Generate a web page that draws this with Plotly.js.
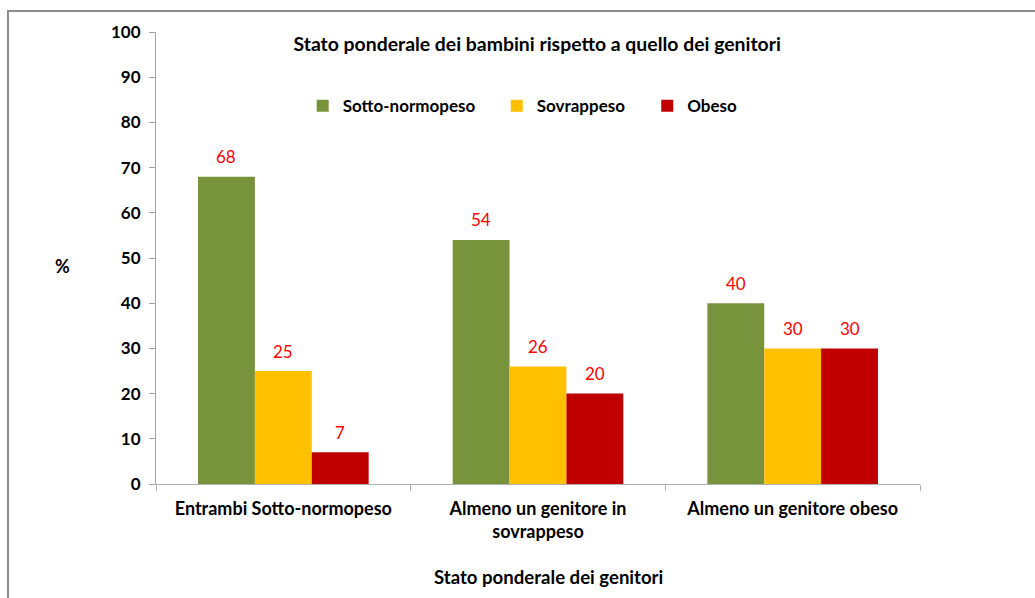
<!DOCTYPE html>
<html>
<head>
<meta charset="utf-8">
<script src="https://cdn.plot.ly/plotly-3.0.1.min.js"></script>
<style>
html,body{margin:0;padding:0;background:#fff;overflow:hidden;}
#chart{width:1035px;height:598px;position:absolute;left:0;top:0;}
#frame{position:absolute;left:7px;top:10px;width:1100px;height:700px;border:2px solid #8c8c8c;box-sizing:border-box;pointer-events:none;}
</style>
</head>
<body>
<div id="chart"></div>
<div id="frame"></div>
<script>
const categories = ["Entrambi Sotto-normopeso", "Almeno un genitore in<br>sovrappeso", "Almeno un genitore obeso"];
const seriesNames = ["Sotto-normopeso", "Sovrappeso", "Obeso"];
const sottoNormopeso = [68, 54, 40];
const sovrappeso = [25, 26, 30];
const obeso = [7, 20, 30];
const yTicks = [0, 10, 20, 30, 40, 50, 60, 70, 80, 90, 100];

const font = "Lato, 'Open Sans', sans-serif";
const colors = ["#77933C", "#FFC000", "#C00000"];
const values = [sottoNormopeso, sovrappeso, obeso];
const legends = ["legend", "legend2", "legend3"];
const bargap = 0.33;

const traces = values.map((v, i) => ({
  type: "bar",
  name: seriesNames[i],
  x: categories,
  y: v,
  marker: {color: colors[i]},
  legend: legends[i],
  showlegend: true,
  hoverinfo: "x+y"
}));

// data labels as annotations placed via the axes (category index + group offset)
const barW = (1 - bargap) / values.length;
const labelAnns = [];
values.forEach((v, i) => {
  v.forEach((val, k) => {
    labelAnns.push({
      xref: "x", yref: "y",
      x: k + (i - (values.length - 1) / 2) * barW,
      y: val,
      text: String(val),
      showarrow: false,
      yanchor: "middle",
      xanchor: "center",
      yshift: 20,
      font: {family: font, size: 17, color: "#FF0000"}
    });
  });
});

const legBase = {
  orientation: "h",
  yanchor: "middle",
  xanchor: "left",
  y: 0.836,
  bgcolor: "rgba(0,0,0,0)",
  font: {family: font, size: 17, color: "#000", weight: "bold"},
  itemwidth: 30
};

const layout = {
  width: 1035,
  height: 598,
  margin: {l: 156, r: 115, t: 32, b: 114},
  paper_bgcolor: "#fff",
  plot_bgcolor: "#fff",
  showlegend: true,
  bargap: bargap,
  bargroupgap: 0,
  title: {
    text: "<b>Stato ponderale dei bambini rispetto a quello dei genitori</b>",
    font: {family: font, size: 19.4, color: "#000"},
    x: 0.519, xref: "container", xanchor: "center",
    y: 0.926, yref: "container", yanchor: "middle"
  },
  legend: Object.assign({}, legBase, {x: 0.192}),
  legend2: Object.assign({}, legBase, {x: 0.446}),
  legend3: Object.assign({}, legBase, {x: 0.643}),
  xaxis: {
    type: "category",
    range: [-0.5, 2.5],
    showline: true, linecolor: "#B0B0B0", linewidth: 1,
    ticks: "outside", tickson: "boundaries", ticklen: 6, tickcolor: "#B0B0B0",
    ticklabelstandoff: 8,
    tickfont: {family: font, size: 18, color: "#000", weight: "bold"},
    showgrid: false, zeroline: false
  },
  yaxis: {
    range: [0, 100],
    tickvals: yTicks,
    showline: true, linecolor: "#A6A6A6", linewidth: 1,
    ticks: "outside", ticklen: 6, tickcolor: "#A6A6A6",
    ticklabelstandoff: 5,
    tickfont: {family: font, size: 17, color: "#000", weight: "bold"},
    showgrid: false, zeroline: false
  },
  annotations: labelAnns.concat([
    {text: "<b>%</b>", xref: "paper", yref: "paper", x: -0.123, y: 0.483,
     xanchor: "center", yanchor: "middle",
     showarrow: false, font: {family: font, size: 18, color: "#000"}},
    {text: "<b>Stato ponderale dei genitori</b>", xref: "paper", yref: "paper",
     x: 0.514, y: -0.206, xanchor: "center", yanchor: "middle", showarrow: false,
     font: {family: font, size: 18.6, color: "#000"}}
  ])
};

Plotly.newPlot("chart", traces, layout, {displayModeBar: false, staticPlot: true});
</script>
</body>
</html>
